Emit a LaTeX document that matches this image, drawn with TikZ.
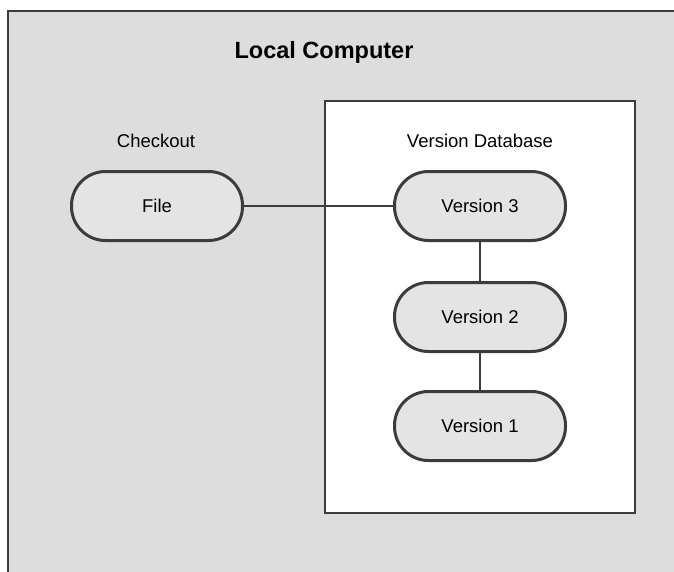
\documentclass[tikz,border=0pt]{standalone}
\usepackage{fontspec}
\setmainfont{Liberation Sans}
\usetikzlibrary{positioning}

\begin{document}
\begin{tikzpicture}[x=1pt,y=-1pt]
    % Define colors for the boxes
    \definecolor{localbg}{RGB}{221,221,221}
    \definecolor{versionfill}{RGB}{228,228,228}
    \definecolor{edgegray}{RGB}{60,60,60}
    \tikzset{
        version/.style={draw=edgegray, line width=3pt, fill=versionfill,
            rounded corners=34pt, minimum width=171pt, minimum height=69pt,
            font=\fontsize{18.5}{20}\selectfont},
        link/.style={draw=edgegray, line width=1.3pt}
    }
    \useasboundingbox (0,0) rectangle (674,571);

    % Local Computer section (gray, runs off the page)
    \fill[localbg] (8,11) rectangle (680,580);
    \draw[edgegray, line width=2pt] (8,580) -- (8,11) -- (680,11);
    \node (local) at (324,52) {\fontsize{23.5}{26}\selectfont\bfseries Local Computer};

    % Version Database section (white)
    \draw[fill=white, draw=edgegray, line width=1.8pt] (325,101) rectangle (635,513);
    \node (dblabel) at (480,141) {\fontsize{18.5}{20}\selectfont Version Database};

    % Checkout
    \node (colabel) at (156,141) {\fontsize{18.5}{20}\selectfont Checkout};
    \node[version] (file) at (157,206) {File};

    % Versions
    \node[version] (v3) at (480,206) {Version 3};
    \node[version] (v2) at (480,317) {Version 2};
    \node[version] (v1) at (480,426) {Version 1};

    % Links
    \draw[link] (file) -- (v3);
    \draw[link] (v3) -- (v2);
    \draw[link] (v2) -- (v1);

\end{tikzpicture}
\end{document}
